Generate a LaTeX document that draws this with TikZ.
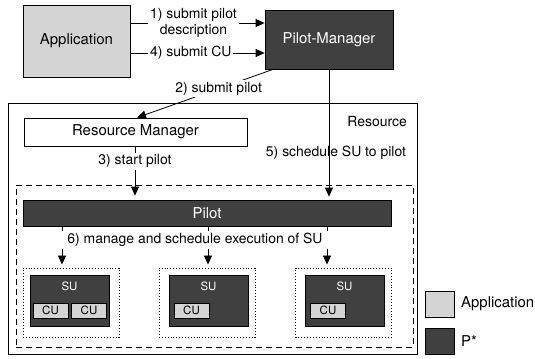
\documentclass[tikz,border=0pt]{standalone}
\usepackage{fontspec}
\setmainfont{TeX Gyre Heros}
\usetikzlibrary{arrows.meta}
\definecolor{appgray}{HTML}{D4D4D4}
\definecolor{pdark}{HTML}{404040}
\begin{document}
\begin{tikzpicture}[x=1bp,y=-1bp,
  every node/.style={inner sep=0pt},
  lblfont/.style={font=\fontsize{14}{16.5}\selectfont},
  boxfont/.style={font=\fontsize{15}{17}\selectfont},
  smallfont/.style={font=\fontsize{11.5}{13}\selectfont},
  appbox/.style={draw, line width=0.8bp, fill=appgray, boxfont},
  pbox/.style={draw, line width=0.8bp, fill=pdark, text=white, boxfont},
  subox/.style={draw, line width=0.8bp, fill=pdark, minimum width=79bp, minimum height=51bp},
  cubox/.style={draw, line width=0.8bp, fill=appgray, smallfont, minimum width=35bp, minimum height=15bp},
  dotbox/.style={draw, line width=0.9bp, dotted, minimum width=96bp, minimum height=69bp},
  lbl/.style={fill=white, inner sep=2bp, lblfont, align=center},
  arr/.style={-{Triangle[length=9bp,width=8bp]}, line width=0.8bp},
  plain/.style={line width=0.8bp}]
\useasboundingbox (0,0) rectangle (535,358);

% top level
\node[appbox, minimum width=107bp, minimum height=72bp] (app) at (76.5,41) {Application};
\node[pbox, minimum width=128bp, minimum height=59bp] (pm) at (329,39.5) {Pilot-Manager};

% resource container
\node[draw, line width=0.9bp, minimum width=409bp, minimum height=251bp] (res) at (212.5,228.5) {};
\node[lblfont, anchor=east] (reslbl) at (407,122) {Resource};
\node[draw, line width=0.8bp, fill=white, boxfont, minimum width=223bp, minimum height=28bp] (rm) at (135.5,132) {Resource Manager};
\node[draw, line width=0.9bp, dashed, dash pattern=on 6bp off 4bp, minimum width=397bp, minimum height=162bp] (dash) at (214.5,266) {};
\node[pbox, minimum width=368bp, minimum height=26bp] (pilot) at (207,213) {Pilot};

% SU containers
\node[dotbox] (d1) at (71,302.5) {};
\node[dotbox] (d2) at (207,302.5) {};
\node[dotbox] (d3) at (343.5,302.5) {};
\node[subox] (s1) at (69.5,300.5) {};
\node[subox] (s2) at (208.5,300.5) {};
\node[subox] (s3) at (344.5,300.5) {};
\node[smallfont, text=white] (s1l) at (69.5,286) {SU};
\node[smallfont, text=white] (s2l) at (208.5,286) {SU};
\node[smallfont, text=white] (s3l) at (344.5,286) {SU};
\node[cubox] (c1) at (50.5,310.5) {CU};
\node[cubox] (c2) at (89,310.5) {CU};
\node[cubox] (c3) at (191.5,310.5) {CU};
\node[cubox] (c4) at (328,310.5) {CU};

% legend
\node[appbox, minimum width=29bp, minimum height=26bp] (lg1) at (439.5,304) {};
\node[pbox, minimum width=29bp, minimum height=26bp] (lg2) at (439.5,341) {};
\node[boxfont, anchor=west] (lg1l) at (461,304) {Application};
\node[boxfont, anchor=west] (lg2l) at (461,341) {P*};

% connectors
\coordinate (y1) at (0,23);
\coordinate (y4) at (0,53);
\draw[arr] (app.east |- y1) -- node[lbl, pos=0.47] {1) submit pilot\\description} (pm.west |- y1);
\draw[arr] (app.east |- y4) -- node[lbl, pos=0.45] {4) submit CU} (pm.west |- y4);

\coordinate (p2s) at (273,69);
\coordinate (p2e) at (137,118);
\draw[arr] (pm.south -| p2s) -- node[lbl, pos=0.4] {2) submit pilot} (rm.north -| p2e);

\coordinate (x3) at (135,0);
\draw[arr, shorten >=4bp] (rm.south -| x3) -- node[lbl, pos=0.28] {3) start pilot} (pilot.north -| x3);

\coordinate (x5) at (329,0);
\draw[arr, shorten >=3bp] (pm.south -| x5) -- (pilot.north -| x5);
\node[lblfont] (l5) at (336,153) {5) schedule SU to pilot};

\coordinate (x6a) at (62,0);
\coordinate (x6b) at (208,0);
\coordinate (x6c) at (327,0);
\draw[arr, shorten >=3bp] (pilot.south -| x6a) -- (d1.north -| x6a);
\draw[arr, shorten >=3bp] (pilot.south -| x6b) -- (d2.north -| x6b);
\draw[arr, shorten >=3bp] (pilot.south -| x6c) -- (d3.north -| x6c);
\node[lbl, inner xsep=5bp] (l6) at (195,240) {6) manage and schedule execution of SU};
\end{tikzpicture}
\end{document}
